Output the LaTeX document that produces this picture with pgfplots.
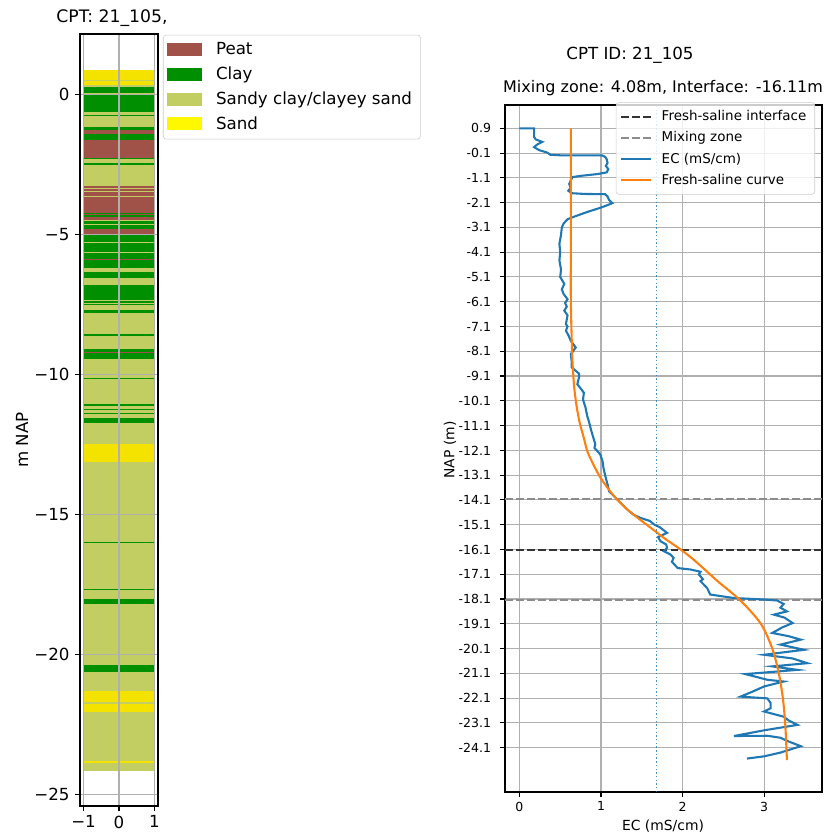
\documentclass[border=0pt]{standalone}
\usepackage{fontspec}
\setmainfont{DejaVu Sans}
\usepackage{pgfplots}
\pgfplotsset{compat=1.18}

\definecolor{peat}{HTML}{A05248}
\definecolor{clay}{HTML}{008F00}
\definecolor{sandyclay}{HTML}{C3CE62}
\definecolor{sand}{HTML}{F4E200}
\definecolor{sandleg}{HTML}{FFF800}
\definecolor{mplblue}{HTML}{1F77B4}
\definecolor{mplorange}{HTML}{FF7F0E}
\definecolor{gridgray}{HTML}{B0B0B0}
\definecolor{leggray}{HTML}{CCCCCC}

\pgfplotsset{
  peatL/.style={fill=peat, draw=none, forget plot},
  clayL/.style={fill=clay, draw=none, forget plot},
  sandyL/.style={fill=sandyclay, draw=none, forget plot},
  sandL/.style={fill=sand, draw=none, forget plot},
  legpatch/.style={legend image code/.code={\fill[##1, draw=none, sharp corners] (0pt,-4.7pt) rectangle (25pt,4.7pt);}},
}

% one soil layer of the CPT column: class style, top (m NAP), bottom (m NAP)
\newcommand{\layer}[3]{\addplot[#1] coordinates {(-1,#2) (1,#2) (1,#3) (-1,#3)};}

\begin{document}
\begin{tikzpicture}
\useasboundingbox (0,0) rectangle (595.44pt,-600.48pt);

% ---------------- soil column ----------------
\begin{axis}[
  at={(57.6pt,-24.48pt)}, anchor=north west,
  scale only axis, width=56.16pt, height=555.84pt,
  xmin=-1.1, xmax=1.1, ymin=-25.42, ymax=2.15,
  xtick={-1,0,1}, xticklabels={−1,0,1},
  ytick={-25,-20,-15,-10,-5,0}, yticklabels={−25,−20,−15,−10,−5,0},
  xtick pos=bottom, ytick pos=left,
  grid=major, grid style={gridgray, line width=0.8pt},
  axis on top,
  tick align=outside, major tick length=3.5pt,
  tick style={black, line width=0.8pt},
  axis line style={line width=0.8pt},
  ticklabel style={font=\fontsize{12}{14}\selectfont},
  yticklabel style={xshift=-0.5pt},
  legend cell align=left,
  legend style={
    at={(1.064,0.999)}, anchor=north west,
    draw=leggray, rounded corners=2pt, fill=white,
    font=\fontsize{12}{14}\selectfont,
    inner xsep=3pt, inner ysep=2pt,
    nodes={inner ysep=3.6pt, inner xsep=3pt},
    /tikz/every odd column/.append style={column sep=7pt},
  },
]
\layer{sandyL}{0.88}{-24.17}
% sand
\layer{sandL}{0.88}{0.50}
\layer{sandL}{0.46}{0.32}
\layer{sandL}{-12.48}{-13.13}
\layer{sandL}{-21.32}{-21.70}
\layer{sandL}{-21.79}{-22.08}
\layer{sandL}{-23.82}{-23.90}
% peat
\layer{peatL}{-1.29}{-1.43}
\layer{peatL}{-1.62}{-2.27}
\layer{peatL}{-3.29}{-3.35}
\layer{peatL}{-3.39}{-3.47}
\layer{peatL}{-3.51}{-3.62}
\layer{peatL}{-3.66}{-3.68}
\layer{peatL}{-3.71}{-4.61}
\layer{peatL}{-4.83}{-4.98}
\layer{peatL}{-5.88}{-5.92}
\layer{peatL}{-9.21}{-9.23}
\layer{sandyL}{-4.49}{-4.51}
% clay
\layer{clayL}{0.26}{0.05}
\layer{clayL}{0.01}{-0.63}
\layer{clayL}{-0.74}{-0.78}
\layer{clayL}{-1.17}{-1.29}
\layer{clayL}{-1.43}{-1.62}
\layer{clayL}{-2.27}{-2.33}
\layer{clayL}{-2.45}{-2.54}
\layer{clayL}{-4.26}{-4.29}
\layer{clayL}{-4.31}{-4.33}
\layer{clayL}{-4.35}{-4.37}
\layer{clayL}{-4.52}{-4.54}
\layer{clayL}{-4.56}{-4.58}
\layer{clayL}{-4.60}{-4.61}
\layer{clayL}{-4.68}{-4.83}
\layer{clayL}{-5.04}{-5.27}
\layer{clayL}{-5.32}{-5.62}
\layer{clayL}{-5.67}{-5.88}
\layer{clayL}{-5.92}{-6.19}
\layer{clayL}{-6.35}{-6.58}
\layer{clayL}{-6.82}{-7.36}
\layer{clayL}{-7.40}{-7.45}
\layer{clayL}{-7.48}{-7.53}
\layer{clayL}{-7.69}{-7.83}
\layer{clayL}{-8.55}{-8.64}
\layer{clayL}{-9.11}{-9.21}
\layer{clayL}{-9.23}{-9.44}
\layer{clayL}{-10.14}{-10.18}
\layer{clayL}{-11.08}{-11.12}
\layer{clayL}{-11.23}{-11.27}
\layer{clayL}{-11.37}{-11.42}
\layer{clayL}{-11.56}{-11.74}
\layer{clayL}{-16.00}{-16.03}
\layer{clayL}{-17.66}{-17.70}
\layer{clayL}{-18.01}{-18.21}
\layer{clayL}{-20.39}{-20.63}

\addlegendimage{legpatch, fill=peat}\addlegendentry{Peat}
\addlegendimage{legpatch, fill=clay}\addlegendentry{Clay}
\addlegendimage{legpatch, fill=sandyclay}\addlegendentry{Sandy clay/clayey sand}
\addlegendimage{legpatch, fill=sandleg}\addlegendentry{Sand}
\end{axis}

% ---------------- EC profile ----------------
\begin{axis}[
  at={(363.6pt,-75.6pt)}, anchor=north west,
  scale only axis, width=228.24pt, height=494.64pt,
  xmin=-0.177, xmax=3.71, ymin=-25.89, ymax=1.84,
  xtick={0,1,2,3},
  ytick={0.9,-0.1,-1.1,-2.1,-3.1,-4.1,-5.1,-6.1,-7.1,-8.1,-9.1,-10.1,-11.1,-12.1,-13.1,-14.1,-15.1,-16.1,-17.1,-18.1,-19.1,-20.1,-21.1,-22.1,-23.1,-24.1},
  yticklabels={0.9,-0.1,-1.1,-2.1,-3.1,-4.1,-5.1,-6.1,-7.1,-8.1,-9.1,-10.1,-11.1,-12.1,-13.1,-14.1,-15.1,-16.1,-17.1,-18.1,-19.1,-20.1,-21.1,-22.1,-23.1,-24.1},
  xtick pos=bottom, ytick pos=left,
  /pgf/number format/assume math mode=true,
  grid=major, grid style={gridgray, line width=0.8pt},
  tick align=outside, major tick length=3.5pt,
  tick style={black, line width=0.8pt},
  axis line style={line width=0.8pt},
  ticklabel style={font=\fontsize{9}{11}\selectfont},
  yticklabel style={xshift=-3pt},
  legend cell align=left,
  legend image code/.code={\draw[#1] (0pt,0pt) -- (21pt,0pt);},
  legend style={
    at={(0.978,1.004)}, anchor=north east,
    draw=leggray, rounded corners=2pt, fill=white, fill opacity=0.8, text opacity=1,
    font=\fontsize{9.7}{12}\selectfont,
    inner xsep=3pt, inner ysep=2.5pt,
    nodes={inner ysep=3.2pt, inner xsep=3pt},
    /tikz/every odd column/.append style={column sep=4.3pt},
  },
]
\addplot[black!80, line width=1.5pt, dash pattern=on 5.55pt off 2.4pt]
  coordinates {(-0.177,-16.11) (3.71,-16.11)};
\addlegendentry{Fresh-saline interface}
\addplot[black!45, line width=1.5pt, dash pattern=on 5.55pt off 2.4pt]
  coordinates {(-0.177,-14.07) (3.71,-14.07)};
\addlegendentry{Mixing zone}
\addplot[black!45, line width=1.5pt, dash pattern=on 5.55pt off 2.4pt, forget plot]
  coordinates {(-0.177,-18.15) (3.71,-18.15)};
\addplot[mplblue, line width=1.5pt] coordinates {
(0.00,0.90)(0.18,0.90)(0.18,0.55)(0.20,0.45)(0.28,0.35)(0.22,0.25)(0.18,0.14)(0.24,0.02)
(0.34,-0.08)(0.38,-0.17)(0.50,-0.19)(0.80,-0.19)(1.01,-0.19)(1.05,-0.25)(1.07,-0.35)(1.08,-0.50)
(1.06,-0.62)(1.09,-0.75)(1.07,-0.88)(0.95,-0.95)(0.75,-1.02)(0.65,-1.07)(0.63,-1.20)(0.61,-1.35)
(0.63,-1.50)(0.60,-1.62)(0.64,-1.72)(0.80,-1.75)(1.05,-1.76)(1.08,-1.85)(1.10,-2.00)(1.14,-2.12)
(1.08,-2.20)(1.00,-2.30)(0.83,-2.48)(0.66,-2.68)(0.59,-2.77)(0.54,-2.95)(0.52,-3.10)(0.51,-3.40)
(0.49,-3.76)(0.50,-4.10)(0.49,-4.43)(0.51,-4.80)(0.50,-5.10)(0.55,-5.38)(0.52,-5.60)(0.54,-5.78)
(0.59,-6.00)(0.56,-6.15)(0.58,-6.30)(0.55,-6.46)(0.59,-6.65)(0.57,-7.00)(0.59,-7.10)(0.57,-7.27)
(0.60,-7.45)(0.63,-7.68)(0.69,-7.95)(0.63,-8.21)(0.64,-8.50)(0.64,-8.75)(0.73,-9.00)(0.73,-9.16)
(0.71,-9.43)(0.79,-9.77)(0.78,-10.05)(0.81,-10.37)(0.83,-10.70)(0.85,-10.91)(0.88,-11.30)(0.93,-11.85)
(0.92,-12.00)(0.99,-12.26)(1.02,-12.55)(1.03,-12.80)(1.05,-13.10)(1.08,-13.47)(1.10,-13.75)(1.18,-14.02)
(1.25,-14.25)(1.32,-14.48)(1.40,-14.70)(1.48,-14.82)(1.60,-14.95)(1.65,-15.09)(1.72,-15.20)(1.81,-15.43)
(1.70,-15.60)(1.73,-15.77)(1.80,-15.90)(1.81,-16.04)(1.77,-16.17)(1.85,-16.30)(1.89,-16.44)(1.87,-16.60)
(1.94,-16.85)(2.10,-16.91)(2.22,-17.00)(2.20,-17.11)(2.25,-17.30)(2.22,-17.38)(2.30,-17.65)(2.34,-17.92)
(2.63,-18.06)(3.00,-18.12)(3.16,-18.16)(3.24,-18.30)(3.20,-18.45)(3.28,-18.60)(3.12,-18.73)(3.25,-18.85)
(3.35,-19.07)(3.22,-19.25)(3.10,-19.47)(3.30,-19.60)(3.45,-19.74)(3.20,-19.94)(3.49,-20.15)(3.00,-20.35)
(3.35,-20.50)(3.53,-20.69)(3.10,-20.82)(3.41,-20.96)(2.77,-21.13)(3.04,-21.36)(3.24,-21.43)(3.00,-21.63)
(2.85,-21.85)(2.71,-22.04)(3.04,-22.11)(3.08,-22.30)(3.08,-22.51)(3.00,-22.64)(3.24,-22.85)(3.30,-23.00)
(3.41,-23.18)(3.00,-23.40)(2.63,-23.63)(3.04,-23.62)(3.20,-23.70)(3.30,-23.85)(3.45,-24.04)(3.20,-24.30)
(3.00,-24.45)(2.79,-24.54)
};
\addlegendentry{EC (mS/cm)}
\addplot[mplorange, line width=1.5pt, smooth, tension=0.5] coordinates {
(0.63,0.90)(0.63,-4.0)(0.63,-6.0)(0.64,-7.5)(0.65,-8.5)(0.67,-9.5)(0.70,-10.3)(0.74,-11.0)
(0.79,-11.6)(0.84,-12.2)(0.97,-13.07)(1.08,-13.61)(1.18,-14.02)(1.32,-14.48)(1.48,-14.90)
(1.62,-15.25)(1.77,-15.63)(1.98,-16.11)(2.15,-16.55)(2.43,-17.38)(2.71,-18.16)(2.96,-19.10)
(3.10,-20.10)(3.18,-21.10)(3.23,-22.10)(3.26,-23.20)(3.28,-24.60)
};
\addlegendentry{Fresh-saline curve}
\addplot[mplblue, opacity=0.8, line width=1pt, dash pattern=on 1pt off 1.65pt, forget plot]
  coordinates {(1.68,-25.89) (1.68,1.84)};
\end{axis}

% titles and axis labels
\node[font=\fontsize{12.4}{15}\selectfont] at (80.6pt,-13pt) {CPT: 21\_105,};
\node[font=\fontsize{12}{14}\selectfont, rotate=90] at (15.8pt,-316.8pt) {m NAP};
\node[font=\fontsize{12}{14}\selectfont] at (453.6pt,-39.6pt) {CPT ID: 21\_105};
\node[font=\fontsize{11.5}{14}\selectfont] at (477.4pt,-63.4pt) {Mixing zone: 4.08m, Interface: -16.11m};
\node[font=\fontsize{10}{12}\selectfont, rotate=90] at (324pt,-324pt) {NAP (m)};
\node[font=\fontsize{10}{12}\selectfont] at (477.4pt,-594.7pt) {EC (mS/cm)};
\end{tikzpicture}
\end{document}
